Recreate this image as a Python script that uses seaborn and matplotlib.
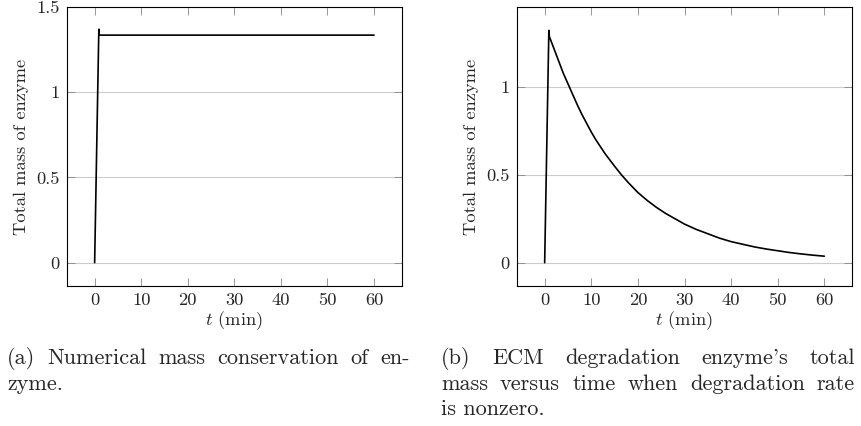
import numpy as np
import pandas as pd
import matplotlib
matplotlib.use("Agg")
import matplotlib.pyplot as plt
from matplotlib.ticker import FuncFormatter
import seaborn as sns

# values
t_a = [0, 0.9, 0.95, 60]
mass_a = [0, 1.37, 1.335, 1.335]

t_b = [0, 0.9, 1, 2, 3, 4, 5, 6, 7, 8, 9, 10, 11, 12, 13, 14, 15, 16.5, 18,
       20, 22, 24, 26, 28, 30, 32.5, 35, 37.5, 40, 42.5, 45, 47.5, 50, 52.5,
       55, 57.5, 60]
mass_b = [0, 1.325, 1.29, 1.22, 1.15, 1.08, 1.02, 0.96, 0.90, 0.845, 0.795,
          0.745, 0.70, 0.66, 0.62, 0.585, 0.55, 0.50, 0.455, 0.40, 0.355,
          0.315, 0.28, 0.25, 0.22, 0.19, 0.165, 0.14, 0.12, 0.105, 0.09,
          0.078, 0.068, 0.058, 0.05, 0.043, 0.037]

yticks_a = [0, 0.5, 1, 1.5]
yticks_b = [0, 0.5, 1]
xticks = [0, 10, 20, 30, 40, 50, 60]

caption_a = [("(a) Numerical mass conservation of en-", True), ("zyme.", False)]
caption_b = [("(b) ECM degradation enzyme's total", True),
             ("mass versus time when degradation rate", True),
             ("is nonzero.", False)]

sns.set_theme(style="ticks")
plt.rcParams['font.family'] = 'serif'
plt.rcParams['font.serif'] = ['cmr10', 'DejaVu Serif']
plt.rcParams['mathtext.fontset'] = 'cm'
plt.rcParams['axes.unicode_minus'] = False

W, H = 861, 426
fig = plt.figure(figsize=(W / 100, H / 100), dpi=100)


def px_axes(x0, x1, y0, y1):
    return fig.add_axes([x0 / W, 1 - y1 / H, (x1 - x0) / W, (y1 - y0) / H])


def style(ax, yticks, ylim):
    ax.set_xlim(-6, 66)
    ax.set_ylim(*ylim)
    ax.set_xticks(xticks)
    ax.set_yticks(yticks)
    ax.yaxis.set_major_formatter(FuncFormatter(lambda v, p: "%g" % v))
    ax.grid(axis='y', color='#cccccc', linewidth=0.8)
    ax.set_axisbelow(True)
    ax.tick_params(direction='in', length=6, width=0.6, color='#888888',
                   labelsize=13.3, top=True, right=True, pad=5)
    for s in ax.spines.values():
        s.set_linewidth(0.8)
        s.set_color('black')
    ax.set_xlabel(r'$t$ (min)', fontsize=13.3, labelpad=1)
    ax.set_ylabel('Total mass of enzyme', fontsize=13.3, labelpad=5)


ax1 = px_axes(66.7, 402, 7, 286)
df_a = pd.DataFrame({"t": t_a, "mass": mass_a})
sns.lineplot(data=df_a, x="t", y="mass", ax=ax1, color='black', linewidth=1.2,
             estimator=None, sort=False)
style(ax1, yticks_a, (-0.137, 1.5))

ax2 = px_axes(516.7, 852.3, 7, 286)
df_b = pd.DataFrame({"t": t_b, "mass": mass_b})
sns.lineplot(data=df_b, x="t", y="mass", ax=ax2, color='black', linewidth=1.2,
             estimator=None, sort=False)
style(ax2, yticks_b, (-0.133, 1.458))

renderer = fig.canvas.get_renderer()


def caption(lines, x0, x1, y_first, dy, size=16):
    for i, (line, just) in enumerate(lines):
        yy = 1 - (y_first + i * dy) / H
        if not just:
            fig.text(x0 / W, yy, line, fontsize=size, va='baseline', ha='left')
            continue
        words = line.split()
        texts = [fig.text(0, yy, w, fontsize=size, va='baseline', ha='left') for w in words]
        widths = [tx.get_window_extent(renderer).width for tx in texts]
        gap = (x1 - x0 - sum(widths)) / (len(words) - 1)
        x = x0
        for tx, w in zip(texts, widths):
            tx.set_x(x / W)
            x += w + gap


caption(caption_a, 7, 410, 364, 25.5)
caption(caption_b, 441, 855, 364, 25.5)

fig.savefig("out.png", dpi=100)
